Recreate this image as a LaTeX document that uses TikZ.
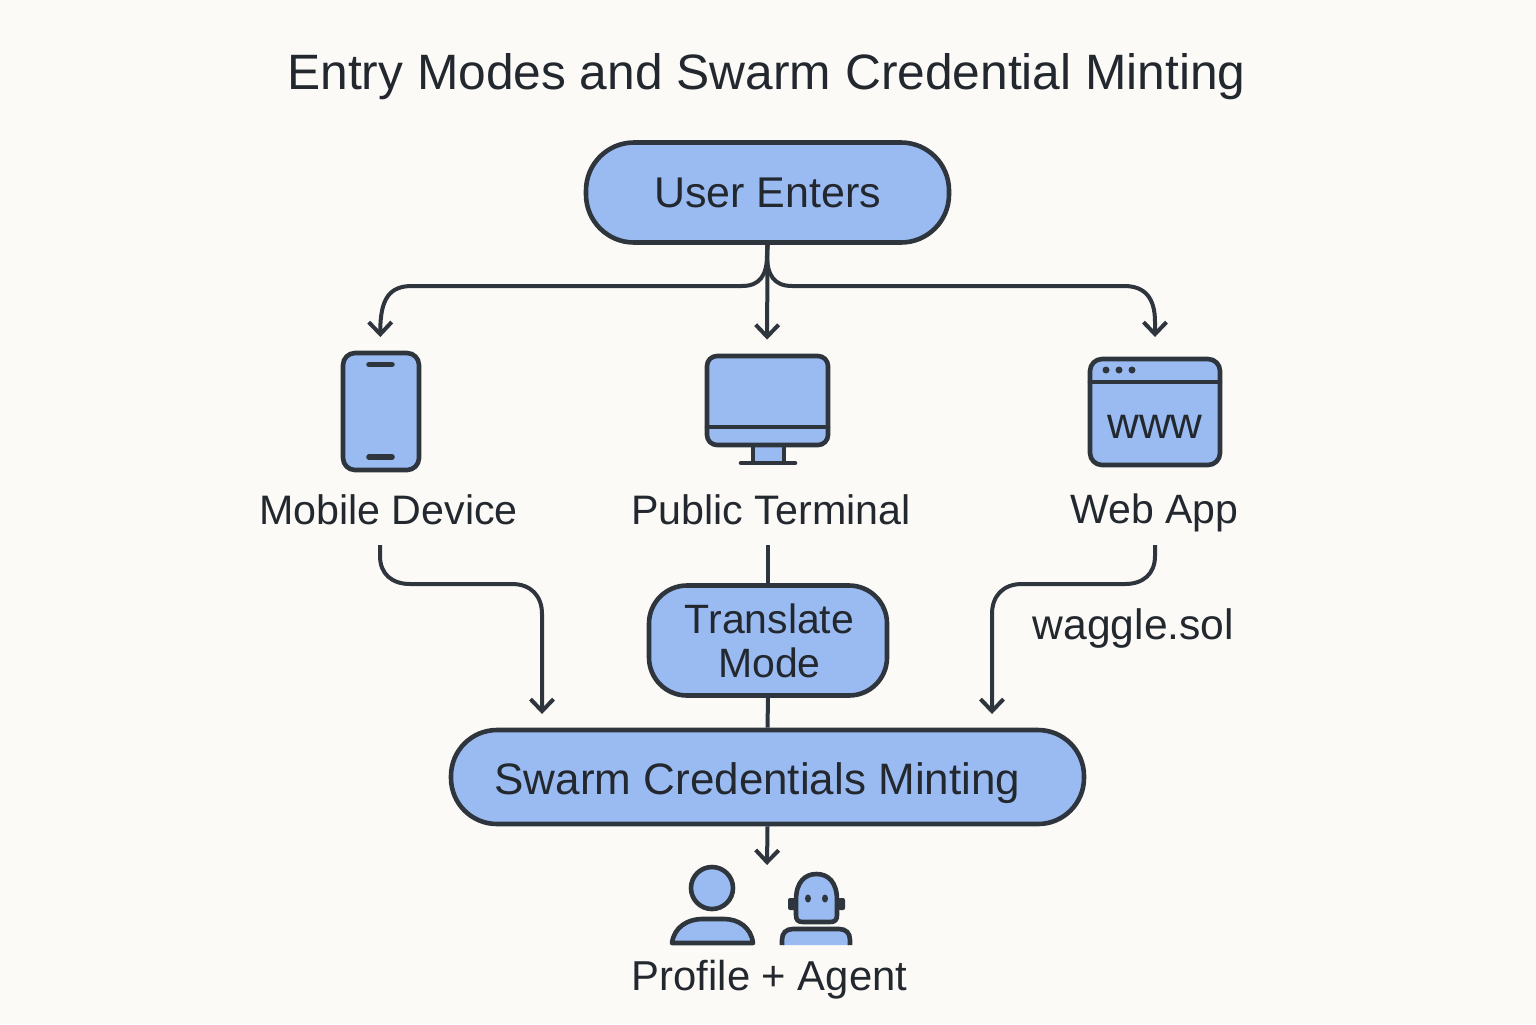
\documentclass[tikz,border=0pt]{standalone}
\usepackage{fontspec}
\setmainfont{Liberation Sans}
\usetikzlibrary{arrows.meta,calc}
\definecolor{bgc}{HTML}{FBFAF7}
\definecolor{fillc}{HTML}{9ABBF2}
\definecolor{linec}{HTML}{2F353D}
\definecolor{textc}{HTML}{23282F}
\newcommand{\fsz}[1]{\fontsize{#1}{22pt}\selectfont}
\tikzset{
  x=0.5pt,y=-0.5pt,
  flowbox/.style={draw=linec,fill=fillc,line width=2.3pt,inner sep=0pt,align=center,text=textc},
  lbl/.style={inner sep=0pt,text=textc,align=center},
  iconbox/.style={inner sep=0pt,draw=none},
  ico/.style={draw=linec,fill=fillc,line width=2.3pt,line join=round},
  icoline/.style={draw=linec,line width=2.3pt,line cap=round},
  flow/.style={draw=linec,line width=2pt},
  flowarrow/.style={flow,-{Straight Barb[length=6pt,width=11.5pt,line width=2pt]}}
}
\begin{document}
\begin{tikzpicture}
\useasboundingbox (0,0) rectangle (1536,1024);
\fill[bgc] (0,0) rectangle (1536,1024);

% title
\node[lbl,font=\fsz{24.85}] (title) at (766.5,77) {Entry Modes and Swarm Credential Minting};

% icon anchors
\node[iconbox,minimum width=40pt,minimum height=59pt] (mobile) at (380.5,412) {};
\node[iconbox,minimum width=61.5pt,minimum height=55pt] (terminal) at (767,410) {};
\node[iconbox,minimum width=66.5pt,minimum height=55pt] (web) at (1154.5,412) {};

% connector ends
\coordinate (mobileout) at (380,545);
\coordinate (termout) at (768,545);
\coordinate (webout) at (1155,545);
\coordinate (swarmleft) at (542,714);
\coordinate (swarmright) at (992,714);
\coordinate (people) at (767,865);

\node[flowbox,minimum width=181.5pt,minimum height=50pt,rounded corners=24pt,font=\fsz{21.5}] (user) at (767.5,192.5) {User Enters};
\node[flowbox,minimum width=119pt,minimum height=55pt,rounded corners=19pt,font=\fsz{20.5}] (translate) at (768,640.5) {\raisebox{-0.7pt}{\hspace*{1.5pt}Translate}\\\raisebox{-0.7pt}{\hspace*{1.5pt}Mode}};
\node[flowbox,minimum width=316.5pt,minimum height=47pt,rounded corners=23pt,font=\fsz{22}] (swarm) at (767.5,777) {\raisebox{-8.5pt}[0pt][0pt]{Swarm Credentials Minting}\hspace*{10pt}};

\draw[flowarrow,shorten >=7.5pt] (user.south) -- (767,255) .. controls (767,275) and (760,286) .. (742,286) -- (412,286) .. controls (390,286) and (380,298) .. (mobile.north |- 0,352);
\draw[flowarrow,shorten >=7.5pt] (user.south) -- (terminal.north);
\draw[flowarrow,shorten >=7.5pt] (user.south) -- (767,255) .. controls (767,275) and (774,286) .. (792,286) -- (1124,286) .. controls (1145,286) and (1155,298) .. (1155,322) -- (1155,352);

\draw[flowarrow] (mobileout) -- (380,556) .. controls (380,574) and (392,584) .. (410,584) -- (512,584) .. controls (531,584) and (542,596) .. (542,614) -- (swarmleft);
\draw[flow] (termout) -- (translate.north);
\draw[flowarrow] (webout) -- (1155,556) .. controls (1155,574) and (1143,584) .. (1125,584) -- (1022,584) .. controls (1003,584) and (992,596) .. (992,614) -- (swarmright);
\draw[flow] (translate.south) -- (swarm.north);
\draw[flowarrow] (swarm.south) -- (people);

% mobile icon
\draw[ico,rounded corners=6pt] (343,353) rectangle (419,470);
\draw[icoline,line width=2.8pt] (369,364.5) -- (392,364.5);
\draw[icoline,line width=2.8pt] (369,457) -- (392,457);

% terminal icon
\draw[ico] (753,445) rectangle (784,463);
\draw[ico,rounded corners=5pt] (707,356) rectangle (828,445);
\draw[icoline] (707,427) -- (828,427);
\draw[icoline] (741,463) -- (795,463);

% web icon
\draw[ico,rounded corners=6pt] (1090,359) rectangle (1220,465);
\draw[icoline] (1090,382) -- (1220,382);
\fill[linec] (1106,370) circle[radius=3.5] (1119,370) circle[radius=3.5] (1132,370) circle[radius=3.5];
\node[lbl,font=\fsz{22}] (www) at (1155,427) {www};

% labels
\node[lbl,font=\fsz{20.6}] (mobilelabel) at (388.5,510) {Mobile Device};
\node[lbl,font=\fsz{20.6}] (termlabel) at (771,510) {Public Terminal};
\node[lbl,font=\fsz{20.5}] (weblabel) at (1154.5,513) {Web App};
\node[lbl,font=\fsz{21.3}] (waggle) at (1133.5,628) {waggle.sol};
\node[lbl,font=\fsz{20.9}] (profile) at (769.5,980) {Profile + Agent};

% person
\draw[ico] (712,888) circle[radius=21];
\draw[ico] (672,943) .. controls (674,927) and (688,919) .. (702,919) -- (724,919) .. controls (738,919) and (751,927) .. (753,943) -- cycle;

% robot
\fill[linec,rounded corners=1pt] (788,898) rectangle (796,910);
\fill[linec,rounded corners=1pt] (838,898) rectangle (845,910);
\draw[ico] (796,900) .. controls (796,882) and (805,874) .. (816.5,874) .. controls (828,874) and (837,882) .. (837,900) -- (837,915) .. controls (837,920) and (835,922) .. (830,922) -- (803,922) .. controls (798,922) and (796,920) .. (796,915) -- cycle;
\fill[linec] (808,898.5) ellipse[x radius=3,y radius=4];
\fill[linec] (825,898.5) ellipse[x radius=3,y radius=4];
\fill[fillc] (782,945) -- (782,940) .. controls (782,933) and (786,929) .. (793,929) -- (839,929) .. controls (846,929) and (850,933) .. (850,940) -- (850,945) -- cycle;
\draw[icoline,line cap=butt] (782,945) -- (782,940) .. controls (782,933) and (786,929) .. (793,929) -- (839,929) .. controls (846,929) and (850,933) .. (850,940) -- (850,945);
\end{tikzpicture}
\end{document}
